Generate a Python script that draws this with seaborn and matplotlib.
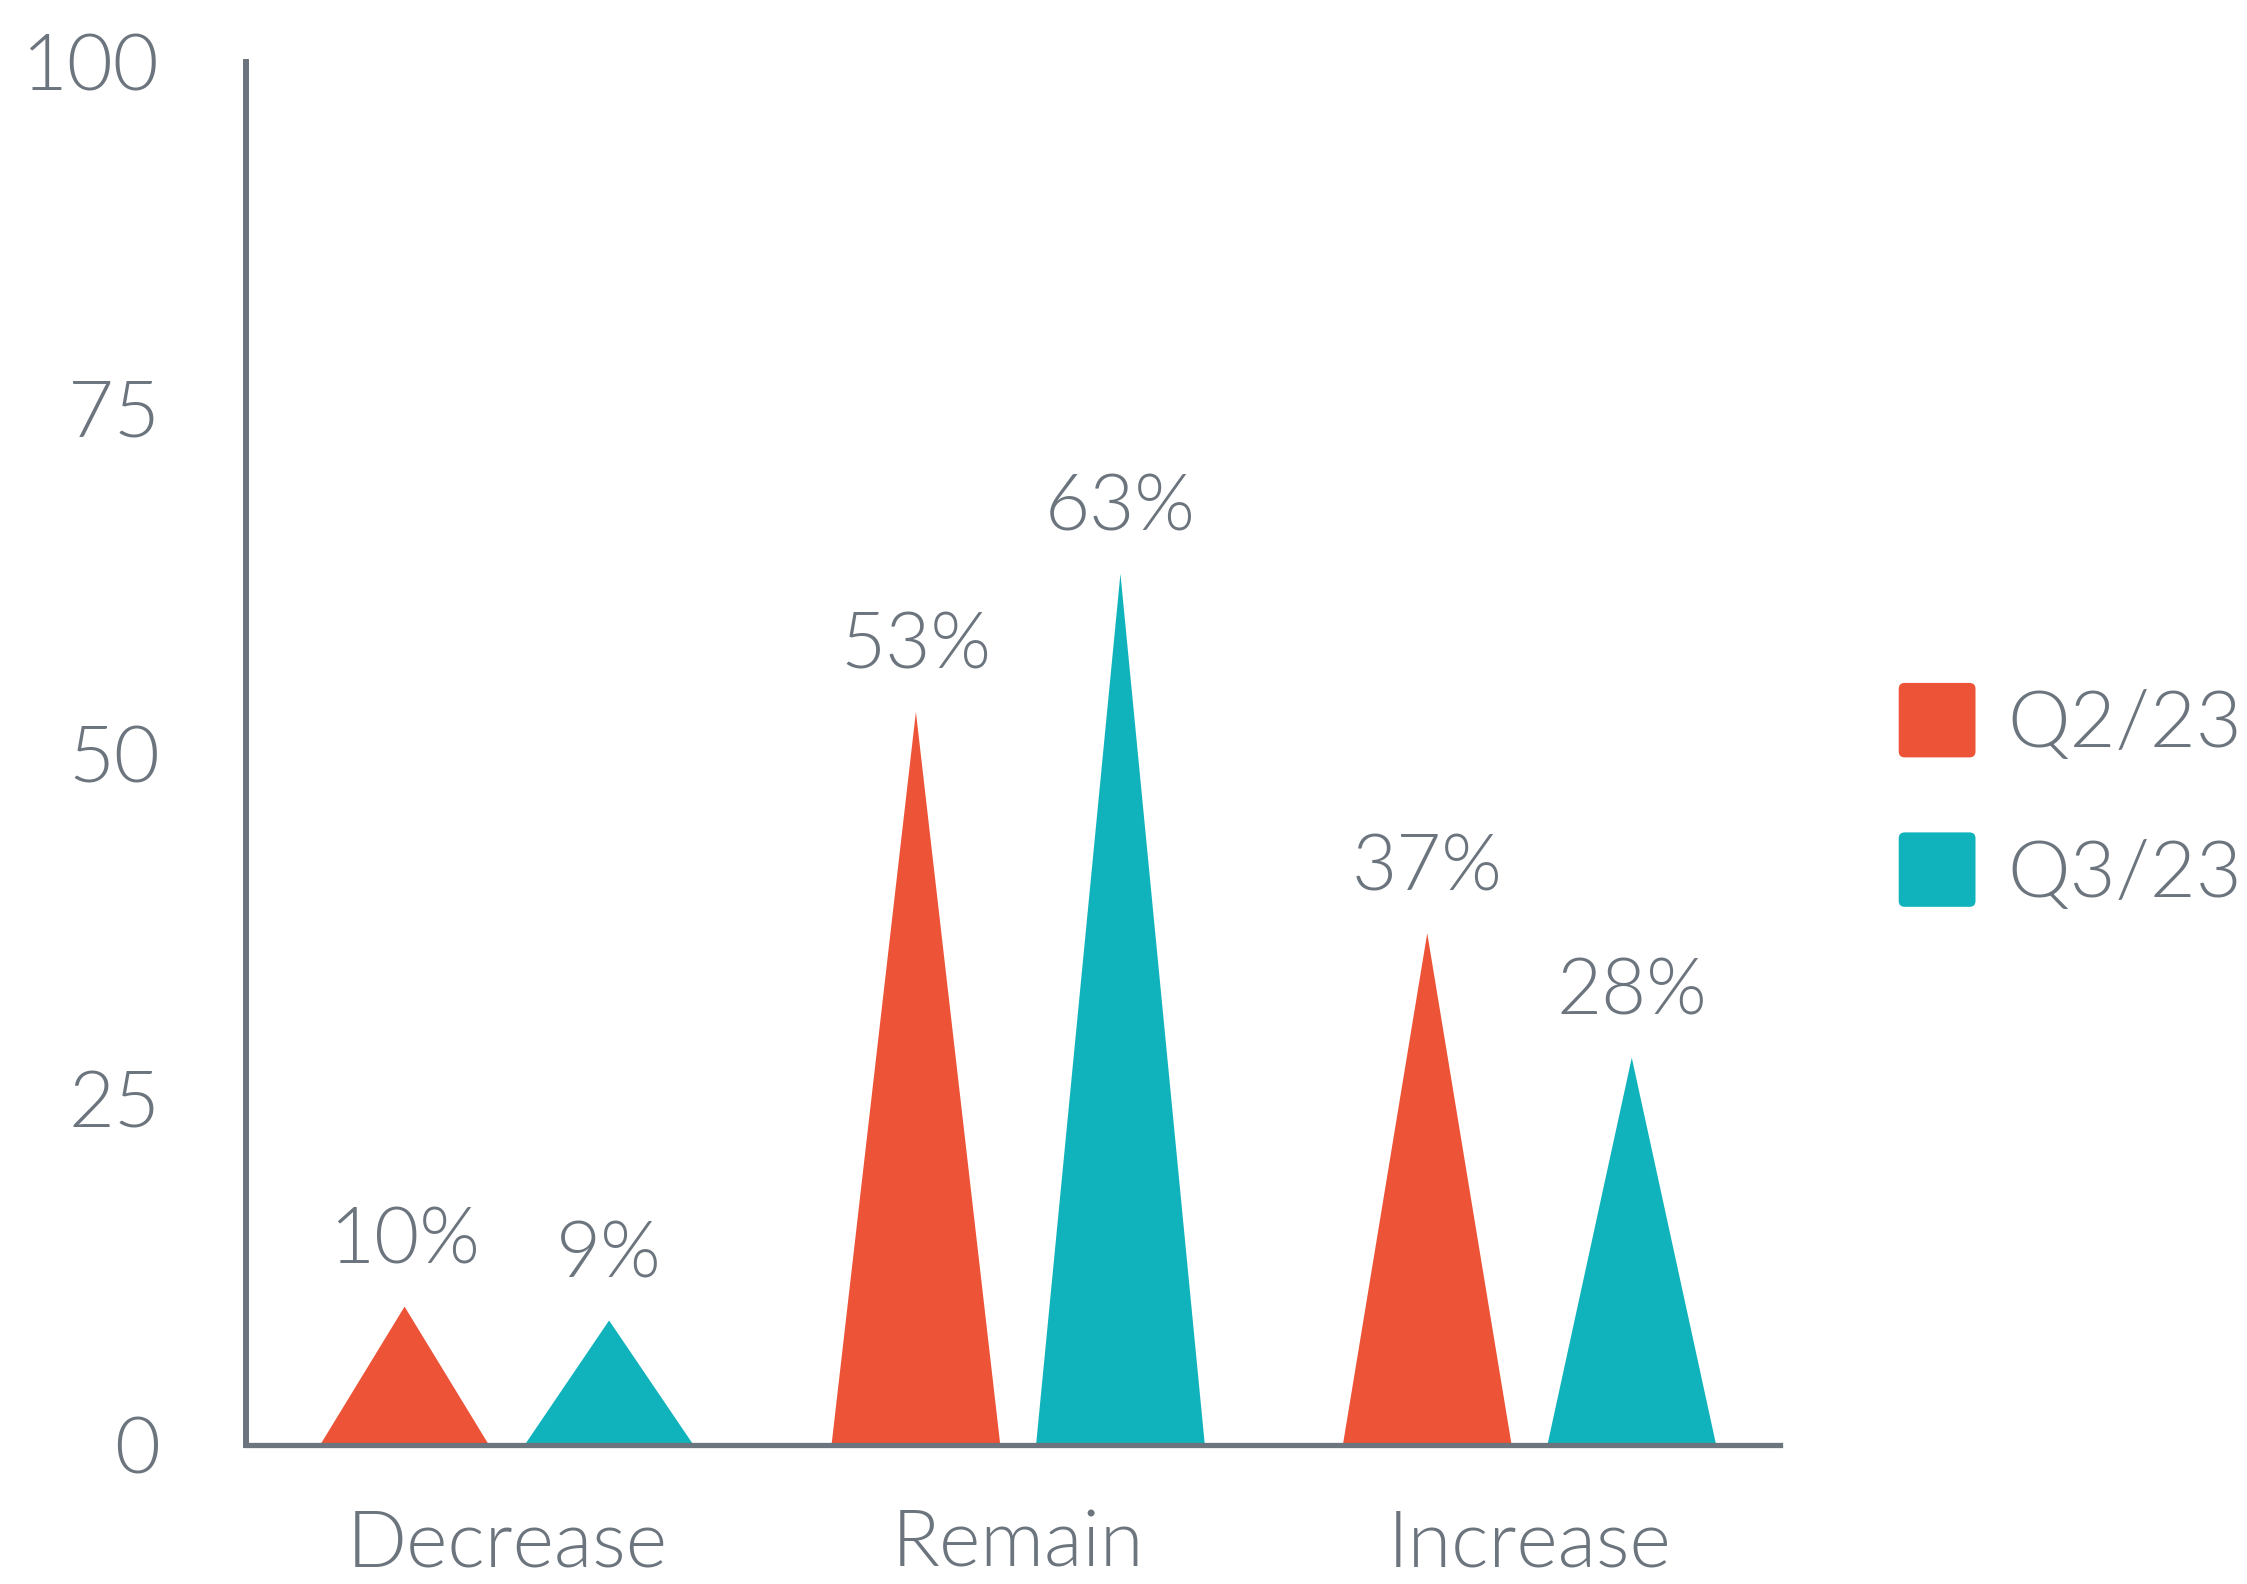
import matplotlib
matplotlib.use("Agg")
import matplotlib.pyplot as plt
import seaborn as sns
import pandas as pd
from matplotlib import font_manager as fm
from matplotlib.patches import Polygon, Patch, FancyBboxPatch
from matplotlib.legend_handler import HandlerPatch

categories = ["Decrease", "Remain", "Increase"]
series = ["Q2/23", "Q3/23"]
q2_values = [10, 53, 37]
q3_values = [9, 63, 28]
y_ticks = [0, 25, 50, 75, 100]

RED = "#EC5337"
TEAL = "#10B3BB"
GRAY = "#6C757E"

sns.set_theme(style="white")
plt.rcParams["font.family"] = ["Lato", "DejaVu Sans"]

light_path = None
for f in fm.fontManager.ttflist:
    if f.fname.endswith("Lato-Light.ttf"):
        light_path = f.fname
        break


def fp(size):
    if light_path:
        return fm.FontProperties(fname=light_path, size=size)
    return fm.FontProperties(family="Lato", weight="light", size=size)


df = pd.DataFrame({
    "category": categories * 2,
    "series": [series[0]] * 3 + [series[1]] * 3,
    "value": q2_values + q3_values,
})

fig = plt.figure(figsize=(22.47, 15.84), dpi=100)
ax = fig.add_axes([0.1095, 0.0878, 0.6827, 0.8731])

sns.barplot(data=df, x="category", y="value", hue="series", order=categories,
            hue_order=series, palette=[RED, TEAL], width=0.8, ax=ax,
            legend=False, errorbar=None, saturation=1)

half = 0.165
bars = list(ax.patches)
for p in bars:
    cx = p.get_x() + p.get_width() / 2
    h = p.get_height()
    col = p.get_facecolor()
    tri = Polygon([[cx - half, 0], [cx, h], [cx + half, 0]], closed=True,
                  facecolor=col, edgecolor="none", zorder=2)
    ax.add_patch(tri)
    ax.annotate(f"{h:.0f}%", xy=(cx, h), xytext=(0, 31), textcoords="offset points",
                ha="center", va="baseline", color=GRAY, fontproperties=fp(56))
    p.remove()

ax.set_xlim(-0.51, 2.49)
ax.set_ylim(0, 100)
ax.set_yticks(y_ticks)
ax.set_yticklabels([str(t) for t in y_ticks])
ax.set_xticks(range(len(categories)))
ax.set_xticklabels(categories)
ax.set_xlabel("")
ax.set_ylabel("")
ax.tick_params(axis="both", length=0, colors=GRAY)
ax.tick_params(axis="y", pad=62)
ax.tick_params(axis="x", pad=46)
for lab in ax.get_xticklabels() + ax.get_yticklabels():
    lab.set_fontproperties(fp(57))
for s in ["top", "right"]:
    ax.spines[s].set_visible(False)
ax.spines["left"].set_color(GRAY)
ax.spines["left"].set_linewidth(4.3)
ax.spines["bottom"].set_color(GRAY)
ax.spines["bottom"].set_linewidth(3.8)
ax.spines["bottom"].set_zorder(3)


class RoundHandler(HandlerPatch):
    def create_artists(self, legend, orig_handle, xdescent, ydescent, width, height,
                       fontsize, trans):
        r = min(width, height) * 0.08
        p = FancyBboxPatch((-xdescent + r, -ydescent + r), width - 2 * r, height - 2 * r,
                           boxstyle=f"round,pad={r}", facecolor=orig_handle.get_facecolor(),
                           edgecolor="none", transform=trans)
        return [p]


handles = [Patch(facecolor=RED, edgecolor="none"), Patch(facecolor=TEAL, edgecolor="none")]
leg = fig.legend(handles, series, loc="center left", bbox_to_anchor=(0.845, 0.497),
                 frameon=False, handlelength=0.97, handleheight=1.07,
                 handletextpad=0.4, labelspacing=0.9, labelcolor=GRAY,
                 borderaxespad=0, borderpad=0,
                 handler_map={Patch: RoundHandler()},
                 prop=fp(57))

fig.savefig("out.png", dpi=100, facecolor="white")
